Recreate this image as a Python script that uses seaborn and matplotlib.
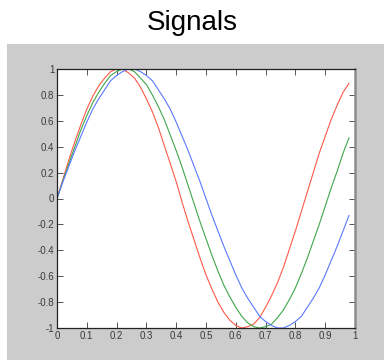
import numpy as np
import pandas as pd
import seaborn as sns
import matplotlib
matplotlib.use("Agg")
import matplotlib.pyplot as plt
from matplotlib.patches import Rectangle

# sample positions (step 0.02) and values
x_vals = [round(0.02 * i, 2) for i in range(50)]

red_vals = [0.00, 0.15, 0.30, 0.44, 0.57, 0.69, 0.79, 0.87, 0.93, 0.98,
            1.00, 1.00, 0.97, 0.93, 0.86, 0.77, 0.67, 0.55, 0.41, 0.27,
            0.13, -0.03, -0.18, -0.32, -0.46, -0.59, -0.70, -0.80, -0.88, -0.94,
            -0.98, -1.00, -0.99, -0.97, -0.92, -0.84, -0.75, -0.65, -0.53, -0.39,
            -0.25, -0.10, 0.05, 0.20, 0.35, 0.48, 0.61, 0.72, 0.82, 0.89]

green_vals = [0.00, 0.14, 0.27, 0.40, 0.53, 0.64, 0.74, 0.82, 0.89, 0.95,
              0.98, 1.00, 1.00, 0.98, 0.93, 0.88, 0.80, 0.71, 0.61, 0.49,
              0.37, 0.24, 0.10, -0.04, -0.18, -0.31, -0.44, -0.56, -0.67, -0.76,
              -0.84, -0.91, -0.96, -0.99, -1.00, -0.99, -0.97, -0.92, -0.86, -0.78,
              -0.69, -0.58, -0.46, -0.33, -0.20, -0.06, 0.08, 0.21, 0.35, 0.47]

blue_vals = [0.00, 0.13, 0.25, 0.37, 0.48, 0.59, 0.69, 0.77, 0.84, 0.91,
             0.95, 0.98, 1.00, 1.00, 0.98, 0.95, 0.91, 0.84, 0.77, 0.69,
             0.59, 0.48, 0.37, 0.25, 0.13, 0.00, -0.13, -0.25, -0.37, -0.48,
             -0.59, -0.69, -0.77, -0.84, -0.91, -0.95, -0.98, -1.00, -1.00, -0.98,
             -0.95, -0.91, -0.84, -0.77, -0.69, -0.59, -0.48, -0.37, -0.25, -0.13]

series_names = ["red", "green", "blue"]
line_colors = {"red": "#ff5a4a", "green": "#3fa64a", "blue": "#5a78ff"}

x_ticks = [0, 0.1, 0.2, 0.3, 0.4, 0.5, 0.6, 0.7, 0.8, 0.9, 1]
x_labels = ["0", "0.1", "0.2", "0.3", "0.4", "0.5", "0.6", "0.7", "0.8", "0.9", "1"]
y_ticks = [-1, -0.8, -0.6, -0.4, -0.2, 0, 0.2, 0.4, 0.6, 0.8, 1]
y_labels = ["-1", "-0.8", "-0.6", "-0.4", "-0.2", "0", "0.2", "0.4", "0.6", "0.8", "1"]

df = pd.DataFrame({
    "x": x_vals * 3,
    "value": red_vals + green_vals + blue_vals,
    "signal": sum([[n] * len(x_vals) for n in series_names], []),
})

sns.set_style("ticks")
plt.rcParams["font.family"] = ["Liberation Sans", "DejaVu Sans"]

fig = plt.figure(figsize=(3.84, 3.6), dpi=100)
fig.patch.set_facecolor("white")

# grey figure panel behind the axes
fig.patches.append(Rectangle((7 / 384, 0), 1, 1 - 44 / 360, transform=fig.transFigure,
                             facecolor="#cccccc", edgecolor="none", zorder=-5))

fig.text(0.5, 1 - 30 / 360, "Signals", ha="center", va="baseline", fontsize=20, color="black")

ax = fig.add_axes([57 / 384, 32 / 360, 298 / 384, 259 / 360])
ax.set_zorder(2)
ax.set_facecolor("white")

sns.lineplot(data=df, x="x", y="value", hue="signal", palette=line_colors,
             hue_order=series_names, linewidth=0.8, legend=False, ax=ax)

ax.set_xlim(0, 1)
ax.set_ylim(-1, 1)
ax.set_xticks(x_ticks)
ax.set_xticklabels(x_labels)
ax.set_yticks(y_ticks)
ax.set_yticklabels(y_labels)
ax.set_xlabel("")
ax.set_ylabel("")

ax.tick_params(direction="in", length=4, width=0.7, colors="#555555", labelcolor="#3a3a3a",
               labelsize=7, top=True, right=True, pad=2)
for side in ["left", "bottom", "top"]:
    ax.spines[side].set_visible(True)
    ax.spines[side].set_color("#222222")
    ax.spines[side].set_linewidth(0.9)
ax.spines["right"].set_visible(True)
ax.spines["right"].set_color("#8c8c8c")
ax.spines["right"].set_linewidth(1.8)

fig.savefig("out.png", dpi=100)
